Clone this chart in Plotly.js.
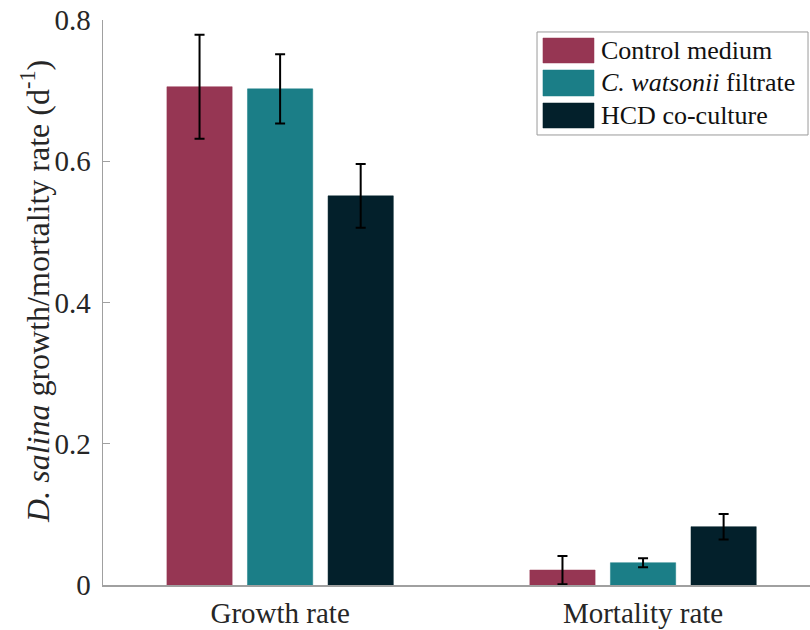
<!DOCTYPE html>
<html>
<head>
<meta charset="utf-8">
<script src="https://cdn.plot.ly/plotly-3.0.1.min.js"></script>
<style>html,body{margin:0;padding:0;background:#fff;}#chart{width:810px;height:630px;}</style>
</head>
<body>
<div id="chart"></div>
<script>
const categories = ["Growth rate", "Mortality rate"];
const seriesNames = ["Control medium", "<i>C. watsonii</i> filtrate", "HCD co-culture"];
const controlValues = [0.7055, 0.0212];
const controlErrors = [0.0735, 0.020];
const filtrateValues = [0.7025, 0.0316];
const filtrateErrors = [0.049, 0.0064];
const hcdValues = [0.551, 0.0826];
const hcdErrors = [0.045, 0.018];
const seriesColors = ["#963653", "#1b7e87", "#03202b"];
const yTickVals = [0, 0.2, 0.4, 0.6, 0.8];
const yTickText = ["0", "0.2", "0.4", "0.6", "0.8"];
const yTitle = "<i>D. salina</i> growth/mortality rate (d<sup>-1</sup>)";

const FONT = "Liberation Serif";
const TXT = "#262626";

const values = [controlValues, filtrateValues, hcdValues];
const errors = [controlErrors, filtrateErrors, hcdErrors];

const traces = values.map((v, i) => ({
  type: "bar",
  x: categories,
  y: v,
  name: seriesNames[i],
  showlegend: false,
  marker: {color: seriesColors[i], line: {color: seriesColors[i], width: 0.5}},
  error_y: {type: "data", array: errors[i], visible: true, color: "#000", thickness: 2, width: 5}
}));

const shapes = [{
  type: "rect", xref: "paper", yref: "paper",
  x0: 0.6139, x1: 0.9972, y0: 0.7965, y1: 0.9788,
  line: {color: "#9a9a9a", width: 1}, fillcolor: "#fff", layer: "above"
}];
const rows = [[0.9239, 0.9681], [0.8655, 0.9115], [0.8088, 0.8531]];
const annotations = [];
rows.forEach((r, i) => {
  shapes.push({type: "rect", xref: "paper", yref: "paper", x0: 0.6223, x1: 0.6945, y0: r[0], y1: r[1],
    line: {color: seriesColors[i], width: 0.5}, fillcolor: seriesColors[i], layer: "above"});
  annotations.push({xref: "paper", yref: "paper", x: 0.7016, y: (r[0] + r[1]) / 2, xanchor: "left", yanchor: "middle",
    text: seriesNames[i], showarrow: false, font: {family: FONT, size: 26, color: "#111"}});
});
// y-axis title as rotated annotation
annotations.push({xref: "paper", yref: "paper", x: -0.096, y: 0.519, xanchor: "center", yanchor: "middle",
  textangle: -90, text: yTitle, showarrow: false, font: {family: FONT, size: 32, color: TXT}});

const layout = {
  width: 810, height: 630,
  margin: {l: 103, r: 0, t: 20, b: 45, pad: 0},
  paper_bgcolor: "#fff", plot_bgcolor: "#fff",
  font: {family: FONT, size: 29, color: TXT},
  barmode: "group", bargap: 0.334, bargroupgap: 0.19,
  xaxis: {
    type: "category", range: [-0.488, 1.46],
    showline: true, linecolor: "#a0a0a0", linewidth: 1.5,
    showgrid: false, zeroline: false, ticks: "",
    tickfont: {family: FONT, size: 29, color: TXT},
    ticklabelstandoff: 2
  },
  yaxis: {
    range: [0, 0.8], tickvals: yTickVals, ticktext: yTickText,
    showline: true, linecolor: "#a0a0a0", linewidth: 1.5,
    showgrid: false, zeroline: false,
    ticks: "inside", ticklen: 7, tickcolor: "#a0a0a0", tickwidth: 1,
    tickfont: {family: FONT, size: 29, color: TXT},
    ticklabelstandoff: 5
  },
  shapes: shapes,
  annotations: annotations
};

Plotly.newPlot("chart", traces, layout, {displayModeBar: false, staticPlot: true});
</script>
</body>
</html>
